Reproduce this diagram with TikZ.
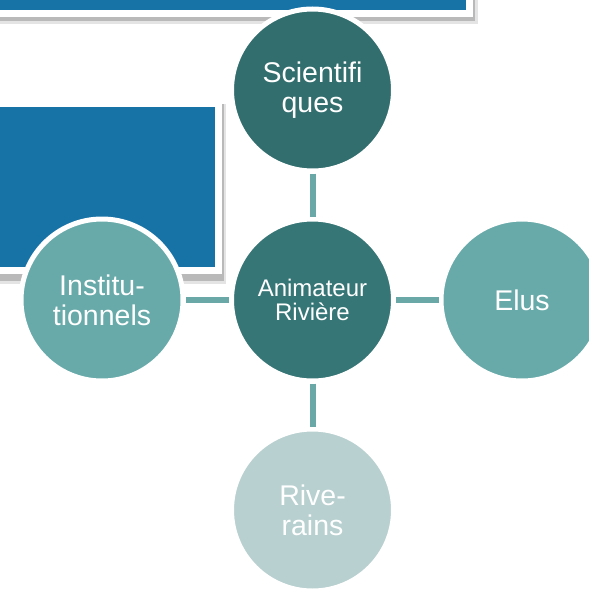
\documentclass[tikz,border=0pt]{standalone}
\usepackage{fontspec}
\setmainfont{Liberation Sans}
\definecolor{rectblue}{RGB}{23,114,166}
\definecolor{darkteal}{RGB}{50,110,110}
\definecolor{midteal}{RGB}{55,118,118}
\definecolor{lightteal}{RGB}{104,170,170}
\definecolor{paleteal}{RGB}{184,208,208}
\definecolor{linkteal}{RGB}{106,168,168}
\definecolor{shadowgray}{RGB}{185,185,185}
\definecolor{shadowlight}{RGB}{228,228,228}
\tikzset{
  bubble/.style={circle, draw=white, line width=5pt, minimum size=162pt, inner sep=0pt,
    text=white, align=center, font=\fontsize{28.5}{30}\selectfont},
  link/.style={draw=linkteal, line width=6pt},
  panel/.style={fill=rectblue, draw=white, line width=7pt},
}
\begin{document}
\begin{tikzpicture}[x=1pt,y=-1pt]
\useasboundingbox (0,0) rectangle (589,589);
\fill[white] (0,0) rectangle (589,589);
% top panel with shadow
\fill[shadowlight] (-10,-10) rectangle (478,24);
\fill[shadowgray] (-10,-10) rectangle (475,21);
\path[panel] (-10,-10) rectangle (469,13.5);
% left panel with shadow
\fill[shadowlight] (-10,104) rectangle (226,284);
\fill[shadowgray] (-10,104) rectangle (224,281);
\path[panel] (-10,103.5) rectangle (218.5,270.5);
% nodes
\node[bubble, fill=darkteal] (sci) at (312.5,90) {Scientifi\\ques};
\node[bubble, fill=midteal, font=\fontsize{24}{24.5}\selectfont] (anim) at (312.5,300) {Animateur\\Rivière};
\node[bubble, fill=lightteal] (inst) at (102,300) {Institu-\\tionnels};
\node[bubble, fill=lightteal] (elus) at (522,300) {Elus};
\node[bubble, fill=paleteal] (riv) at (312.5,510) {Rive-\\rains};
% connectors
\draw[link] (sci) -- (anim);
\draw[link] (anim) -- (elus);
\draw[link] (anim) -- (inst);
\draw[link] (anim) -- (riv);
\end{tikzpicture}
\end{document}
